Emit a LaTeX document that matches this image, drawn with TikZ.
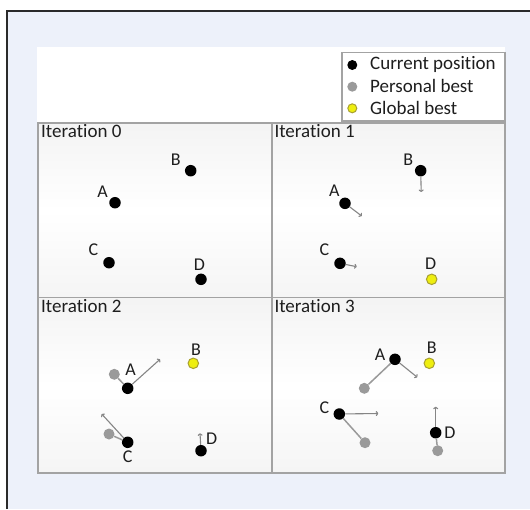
\documentclass[tikz,border=0pt]{standalone}
\usepackage{fontspec}
\setmainfont[Ligatures=NoCommon]{Carlito}
\usetikzlibrary{arrows.meta}
\definecolor{bgblue}{HTML}{EDF1FA}
\definecolor{framedark}{HTML}{2A2A2A}
\definecolor{panelline}{HTML}{A3A3A3}
\definecolor{velgray}{HTML}{858585}
\definecolor{pbgray}{HTML}{9A9A9A}
\definecolor{gbyellow}{HTML}{EEEE10}
\definecolor{gbedge}{HTML}{A8A030}
\definecolor{txt}{HTML}{1E1E1E}
\tikzset{
  cur/.style={circle, fill=black, minimum size=11.5pt, inner sep=0pt},
  pbest/.style={circle, fill=pbgray, minimum size=11pt, inner sep=0pt},
  gbest/.style={circle, fill=gbyellow, draw=gbedge, line width=1pt, minimum size=10.5pt, inner sep=0pt},
  lbl/.style={inner sep=0pt, text=txt, font=\fontsize{18}{21}\selectfont},
  title/.style={inner sep=0pt, anchor=base west, text=txt, font=\fontsize{19}{23}\selectfont},
  legtext/.style={inner sep=0pt, anchor=west, text=txt, font=\fontsize{19}{23}\selectfont},
  vel/.style={draw=velgray, line width=1.1pt, -{To[length=2.5pt,width=5pt]}},
  link/.style={draw=pbgray, line width=1.5pt},
  panel/.style={draw=panelline, line width=1.5pt}
}
\begin{document}
\begin{tikzpicture}[x=1pt,y=-1pt]
\useasboundingbox (0,0) rectangle (530,509);
\fill[white] (0,0) rectangle (530,509);
\fill[bgblue] (7,11) rectangle (530,509);
\draw[framedark, line width=2pt] (7,509) -- (7,11) -- (530,11);
% white band
\fill[white] (37,47) rectangle (505,123);
% panels
\foreach \xa/\xb in {38/272,272/505}{
  \shade[top color=gray!9, bottom color=gray!8, middle color=white] (\xa,123) rectangle (\xb,297.3);
  \shade[top color=gray!9, bottom color=gray!8, middle color=white] (\xa,297.3) rectangle (\xb,473);
}
\draw[panel] (38,123) rectangle (505,473);
\draw[panel] (38,297.3) -- (505,297.3);
\draw[panel] (272,123) -- (272,473);
% legend
\draw[panelline, line width=1.3pt, fill=white] (342,52.5) rectangle (505,121);
\node[cur, minimum size=10pt] (lc) at (352.3,65) {};
\node[pbest, minimum size=10pt] (lp) at (352.3,86.7) {};
\node[gbest, minimum size=9pt] (lg) at (352.3,108.3) {};
\node[legtext] (lct) at (370,64.5) {Current position};
\node[legtext] (lpt) at (370,86.2) {Personal best};
\node[legtext] (lgt) at (370,107.8) {Global best};
% titles
\node[title] (t0) at (41,137.3) {Iteration 0};
\node[title] (t1) at (274.3,137.3) {Iteration 1};
\node[title] (t2) at (41,312.7) {Iteration 2};
\node[title] (t3) at (274.3,312.7) {Iteration 3};
% ---------- Iteration 0
\node[cur] (b0) at (190.7,170.7) {};
\node[lbl] (lb0) at (175.7,159.3) {B};
\node[cur] (a0) at (115,202.7) {};
\node[lbl] (la0) at (102.7,191.7) {A};
\node[cur] (c0) at (109,262.7) {};
\node[lbl] (lc0) at (93.3,250) {C};
\node[cur] (d0) at (201,279.3) {};
\node[lbl] (ld0) at (199.3,265) {D};
% ---------- Iteration 1
\node[cur] (b1) at (420.7,170.7) {};
\node[lbl] (lb1) at (408.3,159.3) {B};
\coordinate (b1e) at (421.2,192);
\draw[vel] (b1) -- (b1e);
\node[cur] (a1) at (345,203.3) {};
\node[lbl] (la1) at (334.3,191) {A};
\coordinate (a1e) at (361.7,216);
\draw[vel] (a1) -- (a1e);
\node[cur] (c1) at (340,263.3) {};
\node[lbl] (lc1) at (324.3,249.3) {C};
\coordinate (c1e) at (356.7,266.7);
\draw[vel] (c1) -- (c1e);
\node[gbest] (d1) at (431.7,279.3) {};
\node[lbl] (ld1) at (430.7,263.3) {D};
% ---------- Iteration 2
\node[pbest] (pa2) at (114.3,374.3) {};
\node[cur] (a2) at (127.7,388.3) {};
\draw[link] (pa2) -- (a2);
\node[lbl] (la2) at (130.5,370) {A};
\coordinate (a2e) at (160,359.3);
\draw[vel] (a2) -- (a2e);
\node[gbest] (b2) at (193.3,363.3) {};
\node[lbl] (lb2) at (196,349.3) {B};
\node[pbest] (pc2) at (109,434) {};
\node[cur] (c2) at (127.7,442.3) {};
\draw[link] (pc2) -- (c2);
\node[lbl] (lc2) at (127.7,456.7) {C};
\coordinate (c2e) at (101.7,414);
\draw[vel] (c2) -- (c2e);
\node[cur] (d2) at (201,450.7) {};
\node[lbl] (ld2) at (211.7,438.3) {D};
\coordinate (d2e) at (200,433.3);
\draw[vel] (d2) -- (d2e);
% ---------- Iteration 3
\node[pbest] (pa3) at (364.3,388.3) {};
\node[cur] (a3) at (395,359.3) {};
\draw[link] (pa3) -- (a3);
\node[lbl] (la3) at (380,355) {A};
\coordinate (a3e) at (417.3,377.3);
\draw[vel] (a3) -- (a3e);
\node[gbest] (b3) at (429.3,363.3) {};
\node[lbl] (lb3) at (431.7,347.3) {B};
\node[pbest] (pc3) at (365,442.7) {};
\node[cur] (c3) at (339.3,414) {};
\draw[link] (pc3) -- (c3);
\node[lbl] (lc3) at (324.3,407.3) {C};
\coordinate (c3e) at (378.3,413.5);
\draw[vel] (c3) -- (c3e);
\node[pbest] (pd3) at (437.7,450.7) {};
\node[cur] (d3) at (435.7,432.7) {};
\draw[link] (pd3) -- (d3);
\node[lbl] (ld3) at (450,432.7) {D};
\coordinate (d3e) at (435.7,406.7);
\draw[vel] (d3) -- (d3e);
\end{tikzpicture}
\end{document}
